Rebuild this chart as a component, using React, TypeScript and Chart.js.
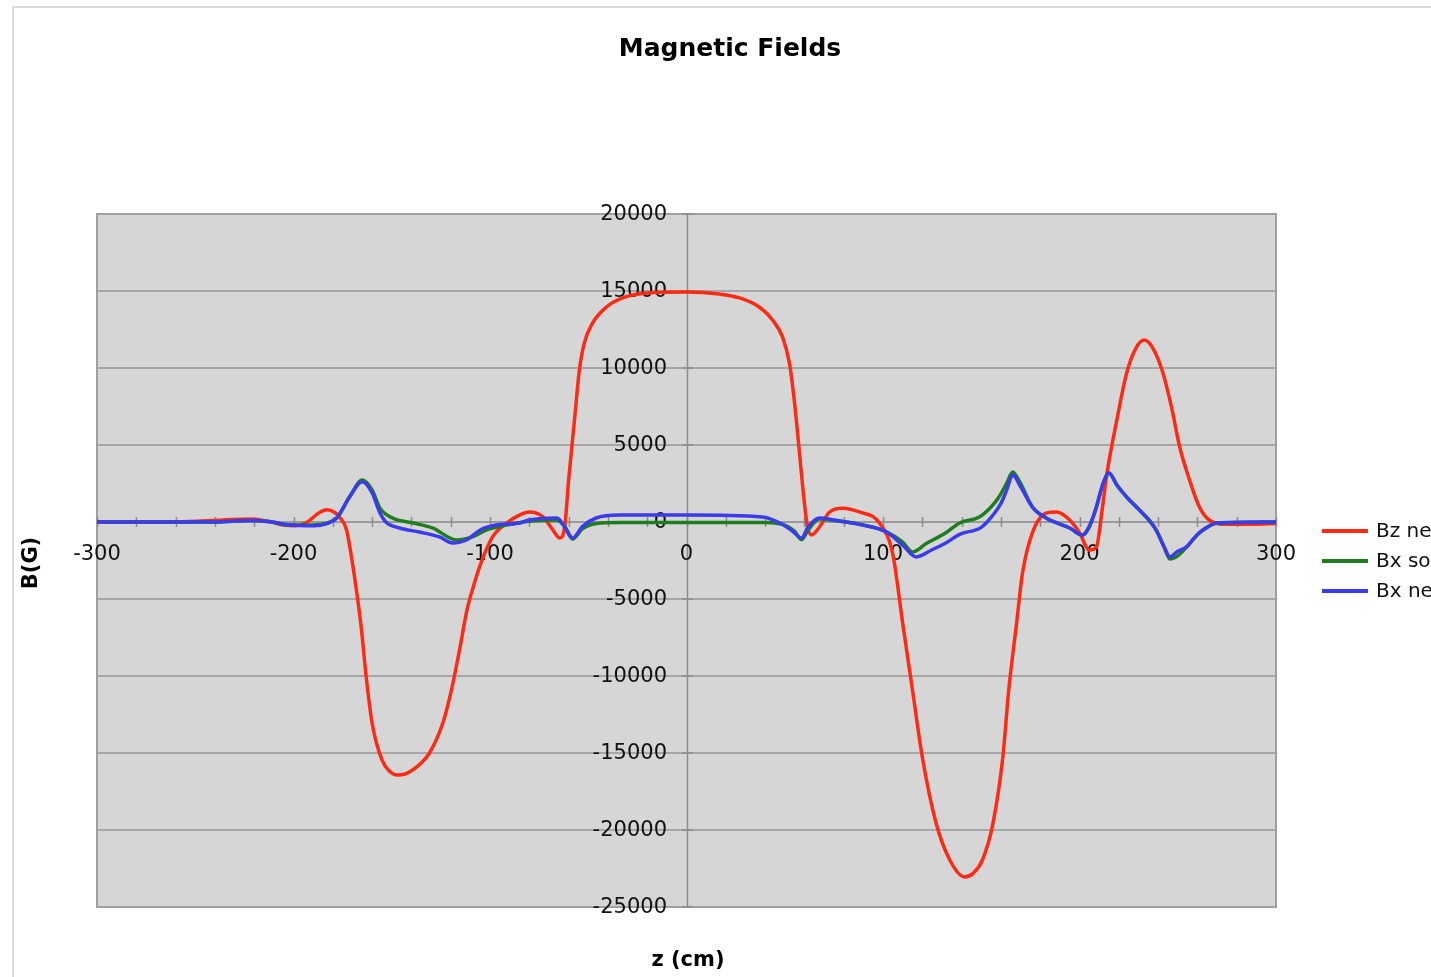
import React, { useEffect, useRef } from "react";
import { Chart, registerables } from "chart.js";

Chart.register(...registerables);

const TITLE = "Magnetic Fields";
const X_TITLE = "z (cm)";
const Y_TITLE = "B(G)";
const SERIES_LABELS = ["Bz net", "Bx sol", "Bx net"];
const SERIES_COLORS = ["#ff2a14", "#1f7d1f", "#3b3bee"];
const X_TICKS = [-300, -200, -100, 0, 100, 200, 300];
const Y_TICKS = [20000, 15000, 10000, 5000, 0, -5000, -10000, -15000, -20000, -25000];

const bzNetZ = [-300, -260, -236, -222, -212, -205, -200, -193, -187, -183, -179, -176.6, -173, -170.5, -168, -165.4, -163, -160, -155, -151, -147, -143, -139.4, -135, -130.8, -124, -119.6, -115.5, -111.5, -108, -105, -98.7, -91.6, -85, -80, -73, -68, -64.6, -62, -60, -57, -54.5, -52, -47.8, -40.7, -32.5, -20, 0, 16.8, 27, 37, 43.8, 48.9, 52.4, 55, 57.5, 60, 61.6, 63.6, 67.7, 72.8, 79.4, 88, 98.2, 105, 110, 115, 120, 127, 134, 141.5, 146, 150.6, 156, 161, 164, 168, 171, 176, 183, 188.3, 195, 200, 205, 208.6, 211.7, 214, 219, 224, 229, 233, 237, 242, 246.8, 251, 256, 261, 266, 274.8, 288, 300];
const bzNetB = [0, 0, 130, 200, 30, -200, -250, 0, 600, 800, 620, 330, -520, -2270, -4400, -7000, -10060, -13050, -15450, -16200, -16430, -16350, -16100, -15650, -15000, -13050, -10900, -8300, -5600, -4000, -2800, -970, -65, 450, 650, 330, -520, -1040, -325, 2700, 6620, 9870, 11620, 12920, 13960, 14550, 14870, 14935, 14800, 14550, 13960, 13120, 12000, 10300, 7730, 4480, 1230, -325, -840, -325, 650, 900, 650, -65, -2100, -6560, -10900, -15260, -19550, -21950, -23050, -22800, -21950, -19550, -15260, -10900, -6560, -3310, -700, 580, 650, 130, -700, -1820, -1620, 975, 3180, 6620, 9680, 11360, 11820, 11360, 9870, 7470, 4870, 2730, 975, 130, -150, -150, -100];

const bxSolZ = [-300, -240, -222, -212, -202, -190, -183, -178, -171.5, -165, -160, -156, -149.6, -139, -129, -117, -109, -102, -91.6, -80, -66, -62, -58, -53, -46, -34, 0, 40, 50, 55, 58.5, 62, 67.7, 75, 90, 102, 110, 115, 122, 132, 139, 149, 155, 159, 163, 166, 170, 176, 183, 195, 201.5, 205, 208.6, 212, 215, 219, 224, 232, 239, 243, 246, 250, 254.5, 261, 270, 300];
const bxSolB = [0, 0, 100, 20, -200, -200, -80, 260, 1620, 2720, 2080, 900, 260, -65, -400, -1170, -970, -520, -200, 50, 130, -300, -1100, -450, -100, -30, -30, -30, -200, -600, -1150, -500, 200, 100, -200, -650, -1300, -1950, -1400, -700, -65, 325, 975, 1620, 2530, 3250, 2500, 975, 260, -390, -845, -300, 975, 2500, 3180, 2400, 1620, 580, -520, -1600, -2400, -2200, -1620, -700, -65, 0];

const bxNetZ = [-300, -240, -222, -212, -202, -190, -183, -178, -171.5, -165, -160, -156, -153, -146, -136, -125.7, -119, -112, -105, -97, -85, -80, -66, -62, -58, -53, -46, -34, 0, 38.7, 48, 54, 58.5, 62, 67.7, 75, 89.6, 101.8, 110, 117, 125, 132, 139, 150, 155, 160, 163, 166, 170, 176, 183, 195, 201.5, 205, 208.6, 212, 215, 219, 224, 228, 232, 235, 239, 243, 246, 250, 254.5, 258, 261, 265, 270, 300];
const bxNetB = [0, 0, 100, 20, -200, -250, -100, 260, 1620, 2620, 1900, 580, 0, -390, -650, -970, -1360, -1170, -520, -200, -65, 130, 260, -300, -1040, -300, 260, 450, 450, 325, -100, -600, -1040, -300, 260, 130, -200, -650, -1500, -2270, -1800, -1360, -800, -350, 300, 1200, 2100, 3050, 2300, 975, 260, -390, -845, -300, 975, 2500, 3180, 2400, 1620, 1100, 580, 200, -520, -1600, -2270, -1900, -1620, -1100, -700, -350, -65, 0];

const toPoints = (zs: number[], bs: number[]) => zs.map((z, i) => ({ x: z, y: bs[i] }));

const FONT = '"DejaVu Sans", Verdana, sans-serif';

const excelPlugin = {
  id: "excelDecor",
  beforeDraw(chart: any) {
    const { ctx, chartArea: a } = chart;
    ctx.save();
    ctx.fillStyle = "#ffffff";
    ctx.fillRect(0, 0, chart.width, chart.height);
    ctx.strokeStyle = "#dcdcdc";
    ctx.lineWidth = 2;
    ctx.beginPath();
    ctx.moveTo(13, chart.height);
    ctx.lineTo(13, 7);
    ctx.lineTo(chart.width, 7);
    ctx.stroke();
    ctx.fillStyle = "#d6d6d6";
    ctx.fillRect(a.left, a.top, a.right - a.left, a.bottom - a.top);
    ctx.restore();
  },
  beforeDatasetsDraw(chart: any) {
    const { ctx, chartArea: a, scales } = chart;
    const xs = scales.x;
    const ys = scales.y;
    const x0 = Math.round(xs.getPixelForValue(0));
    const y0 = Math.round(ys.getPixelForValue(0));
    ctx.save();
    ctx.strokeStyle = "#a0a0a0";
    ctx.lineWidth = 2;
    ctx.strokeRect(a.left, a.top, a.right - a.left, a.bottom - a.top);
    ctx.strokeStyle = "#8c8c8c";
    ctx.lineWidth = 1.5;
    ctx.beginPath();
    ctx.moveTo(x0 + 0.5, a.top);
    ctx.lineTo(x0 + 0.5, a.bottom);
    ctx.stroke();
    ctx.strokeStyle = "#9a9a9a";
    ctx.lineWidth = 2;
    ctx.beginPath();
    ctx.moveTo(a.left, y0);
    ctx.lineTo(a.right, y0);
    ctx.stroke();
    ctx.strokeStyle = "#8c8c8c";
    ctx.lineWidth = 1.5;
    ctx.beginPath();
    for (let v = xs.min; v <= xs.max; v += 20) {
      const px = Math.round(xs.getPixelForValue(v)) + 0.5;
      ctx.moveTo(px, y0 - 5);
      ctx.lineTo(px, y0 + 5);
    }
    for (const v of Y_TICKS) {
      const py = Math.round(ys.getPixelForValue(v));
      ctx.moveTo(x0 - 5, py);
      ctx.lineTo(x0 + 6, py);
    }
    ctx.stroke();
    ctx.fillStyle = "#111111";
    ctx.font = `21px ${FONT}`;
    ctx.textAlign = "right";
    ctx.textBaseline = "middle";
    for (const v of Y_TICKS) {
      ctx.fillText(String(v), x0 - 20, ys.getPixelForValue(v) + 1);
    }
    ctx.textAlign = "center";
    for (const v of X_TICKS) {
      ctx.fillText(String(v), xs.getPixelForValue(v), y0 + 33);
    }
    ctx.restore();
  },
  afterDraw(chart: any) {
    const { ctx } = chart;
    ctx.save();
    ctx.fillStyle = "#000000";
    ctx.textAlign = "center";
    ctx.textBaseline = "middle";
    ctx.font = `bold 25px ${FONT}`;
    ctx.fillText(TITLE, 730, 49);
    ctx.font = `bold 21px ${FONT}`;
    ctx.fillText(X_TITLE, 688, 961);
    ctx.save();
    ctx.translate(32, 563);
    ctx.rotate(-Math.PI / 2);
    ctx.fillText(Y_TITLE, 0, 0);
    ctx.restore();
    ctx.font = `20px ${FONT}`;
    ctx.textAlign = "left";
    SERIES_LABELS.forEach((lab, i) => {
      const y = 531 + i * 30;
      ctx.strokeStyle = SERIES_COLORS[i];
      ctx.lineWidth = 4;
      ctx.beginPath();
      ctx.moveTo(1322, y);
      ctx.lineTo(1368, y);
      ctx.stroke();
      ctx.fillStyle = "#111111";
      ctx.fillText(lab, 1376, y + 1);
    });
    ctx.restore();
  },
};

export default function App() {
  const ref = useRef<HTMLCanvasElement | null>(null);
  useEffect(() => {
    document.body.style.margin = "0";
    const canvas = ref.current;
    if (!canvas) return;
    const series = [
      { label: SERIES_LABELS[0], data: toPoints(bzNetZ, bzNetB), color: SERIES_COLORS[0], order: 3 },
      { label: SERIES_LABELS[1], data: toPoints(bxSolZ, bxSolB), color: SERIES_COLORS[1], order: 2 },
      { label: SERIES_LABELS[2], data: toPoints(bxNetZ, bxNetB), color: SERIES_COLORS[2], order: 1 },
    ];
    const chart = new Chart(canvas, {
      type: "scatter",
      data: {
        datasets: series.map((s) => ({
          label: s.label,
          data: s.data,
          showLine: true,
          borderColor: s.color,
          backgroundColor: s.color,
          borderWidth: 3.5,
          pointRadius: 0,
          pointHoverRadius: 0,
          cubicInterpolationMode: "monotone" as const,
          order: s.order,
        })),
      },
      options: {
        responsive: false,
        animation: false,
        devicePixelRatio: 1,
        layout: { padding: { left: 97, top: 214, right: 155, bottom: 70 } },
        plugins: {
          legend: { display: false },
          title: { display: false },
          tooltip: { enabled: false },
        },
        scales: {
          x: {
            type: "linear",
            min: -300,
            max: 300,
            ticks: { display: false, stepSize: 100 },
            grid: { display: false, drawTicks: false },
            border: { display: false },
          },
          y: {
            type: "linear",
            min: -25000,
            max: 20000,
            ticks: { display: false, stepSize: 5000 },
            grid: { color: "#a6a6a6", lineWidth: 2, drawTicks: false },
            border: { display: false },
          },
        },
      },
      plugins: [excelPlugin],
    });
    return () => chart.destroy();
  }, []);
  return (
    <div style={{ position: "fixed", left: 0, top: 0, width: 1431, height: 977 }}>
      <canvas ref={ref} width={1431} height={977} style={{ display: "block" }} />
    </div>
  );
}
